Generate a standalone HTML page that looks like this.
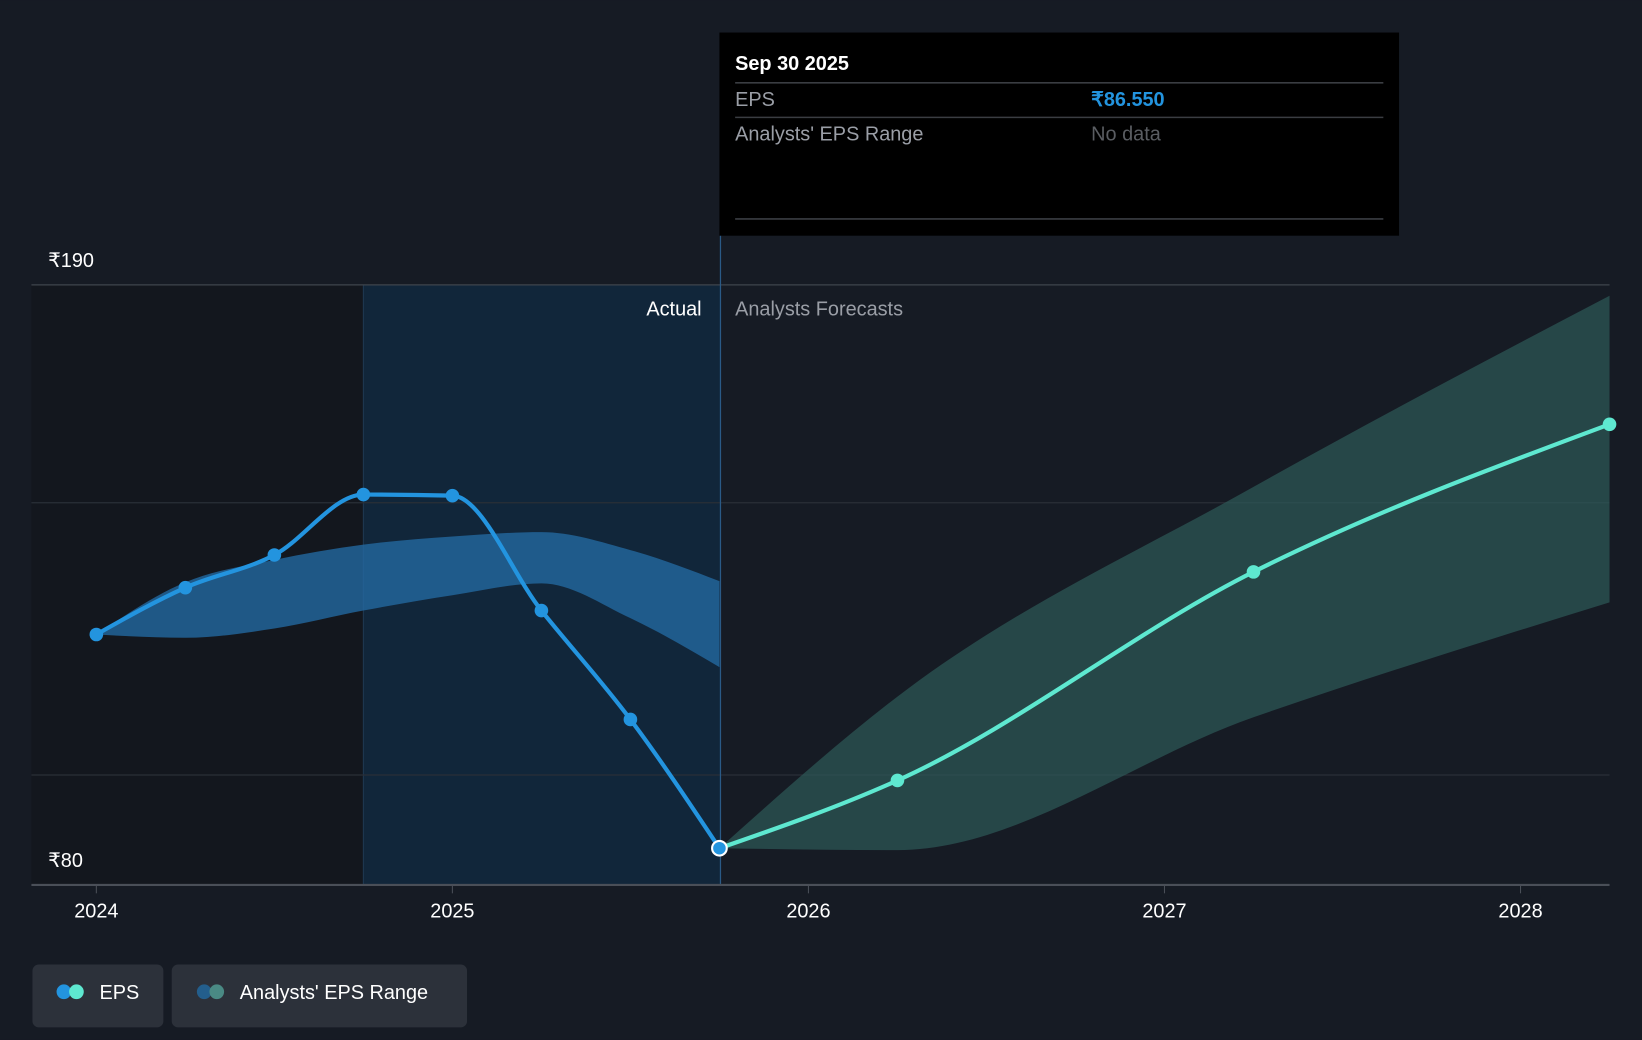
<!DOCTYPE html>
<html><head><meta charset="utf-8">
<style>
html,body{margin:0;padding:0;background:#161b24;}
svg{display:block;font-family:"Liberation Sans",sans-serif;}
</style></head>
<body>
<svg id="chart" width="1642" height="1040" viewBox="0 0 1568 993" xmlns="http://www.w3.org/2000/svg">
<rect x="0" y="0" width="1568" height="993" fill="#161b24"/>
<rect x="30" y="272" width="317" height="573" fill="#13171e"/>
<rect x="347" y="272" width="341" height="573" fill="#11263a"/>
<line x1="347" y1="272" x2="347" y2="845" stroke="#1f3850" stroke-width="1"/>
<g id="grid"></g>
<g id="bands"></g>
<line x1="688" y1="225" x2="688" y2="845" stroke="#2a5a86" stroke-width="1.2"/>
<g id="lines"></g>
<line x1="30" y1="845" x2="1537" y2="845" stroke="#4a4f58" stroke-width="2"/>
<g id="xticks"></g>
<text x="46" y="255" fill="#ffffff" font-size="19">₹190</text>
<text x="46" y="828" fill="#ffffff" font-size="19">₹80</text>
<text x="670" y="301" fill="#ffffff" font-size="19" text-anchor="end">Actual</text>
<text x="702" y="301" fill="#9a9ea6" font-size="19">Analysts Forecasts</text>

<g>
<rect x="687" y="31" width="649" height="194" fill="#000000"/>
<text x="702" y="67" fill="#ffffff" font-size="19" font-weight="bold">Sep 30 2025</text>
<line x1="702" y1="79" x2="1321" y2="79" stroke="#3a3d42" stroke-width="1.5"/>
<text x="702" y="101" fill="#9a9ea6" font-size="19">EPS</text>
<text x="1042" y="101" fill="#2394df" font-size="19" font-weight="bold">₹86.550</text>
<line x1="702" y1="112" x2="1321" y2="112" stroke="#3a3d42" stroke-width="1.5"/>
<text x="702" y="134" fill="#9a9ea6" font-size="19">Analysts' EPS Range</text>
<text x="1042" y="134" fill="#5a5d62" font-size="19">No data</text>
<line x1="702" y1="209" x2="1321" y2="209" stroke="#3a3d42" stroke-width="1.5"/>
</g>

<g>
<rect x="31" y="921" width="125" height="60" rx="6" fill="#2c313a"/>
<circle cx="61" cy="947" r="7" fill="#2394df"/>
<circle cx="73" cy="947" r="7" fill="#5ee8d0"/>
<text x="95" y="954" fill="#ffffff" font-size="19">EPS</text>
</g>
<g>
<rect x="164" y="921" width="282" height="60" rx="6" fill="#2c313a"/>
<circle cx="195" cy="947" r="7" fill="#235e8c"/>
<circle cx="207" cy="947" r="7" fill="#4a8a84"/>
<text x="229" y="954" fill="#ffffff" font-size="19">Analysts' EPS Range</text>
</g>
</svg>
<script>
const actualDates=[2024,2024.25,2024.5,2024.75,2025,2025.25,2025.5,2025.75];
const actualEps=[125.8,134.4,140.4,151.5,151.3,130.2,110.2,86.55];
const pastRangeHigh=[125.8,135.4,139.5,142.3,143.8,144.6,141.3,135.6];
const pastRangeLow=[125.8,125.2,126.9,130.2,133,135.2,128.8,119.8];
const fcDates=[2025.75,2026.25,2027.25,2028.25];
const fcEps=[86.55,99.0,137.3,164.4];
const fcHigh=[86.55,114.4,152.9,188];
const fcLow=[86.55,86.2,110.6,131.7];
const gridVals=[190,150,100];
const xTicks=[2024,2025,2026,2027,2028];

const X=t=>92+(t-2024)*340;
const Y=v=>272+(190-v)*5.2;
const NS="http://www.w3.org/2000/svg";
function mk(tag,attrs,parent){const e=document.createElementNS(NS,tag);for(const k in attrs)e.setAttribute(k,attrs[k]);parent.appendChild(e);return e;}
function sgn(v){return v<0?-1:1;}
function smooth(xs,ys){
  const n=xs.length,s=[],m=[];
  for(let i=0;i<n-1;i++)s.push((ys[i+1]-ys[i])/(xs[i+1]-xs[i]));
  for(let i=1;i<n-1;i++){
    const h0=xs[i]-xs[i-1],h1=xs[i+1]-xs[i],s0=s[i-1],s1=s[i];
    const p=(s0*h1+s1*h0)/(h0+h1);
    m[i]=(sgn(s0)+sgn(s1))*Math.min(Math.abs(s0),Math.abs(s1),0.5*Math.abs(p))||0;
  }
  if(n>2){
    m[0]=(3*s[0]-m[1])/2;
    m[n-1]=(3*s[n-2]-m[n-2])/2;
  }else{m[0]=m[1]=s[0];}
  let p="M"+xs[0]+","+ys[0];
  for(let i=0;i<n-1;i++){
    const h=(xs[i+1]-xs[i])/3;
    p+=" C"+(xs[i]+h)+","+(ys[i]+m[i]*h)+" "+(xs[i+1]-h)+","+(ys[i+1]-m[i+1]*h)+" "+xs[i+1]+","+ys[i+1];
  }
  return p;
}
function bandPath(ds,hi,lo){
  const xs=ds.map(X);
  const top=smooth(xs,hi.map(Y));
  const bx=xs.slice().reverse(),by=lo.map(Y).reverse();
  const bot=smooth(bx,by).replace(/^M/,"L");
  return top+" "+bot+" Z";
}
const grid=document.getElementById('grid');
gridVals.forEach((v,i)=>{
  const l=mk('line',{x1:30,x2:1537,y1:Y(v),y2:Y(v),stroke:i===0?'#3f444c':'#2a2f37','stroke-width':1.2},grid);
  
  
});
const xt=document.getElementById('xticks');
xTicks.forEach(t=>{
  const l=mk('line',{x1:X(t),x2:X(t),y1:845,y2:853,stroke:'#4a4f58','stroke-width':1},xt);
  
  
  const tx=mk('text',{x:X(t),y:876,fill:'#ffffff','font-size':19,'text-anchor':'middle'},xt);
  tx.textContent=String(t);
  
  
});
const bands=document.getElementById('bands');
const b1=mk('path',{d:bandPath(actualDates,pastRangeHigh,pastRangeLow),fill:'#2369a0',opacity:0.8},bands);


const b2=mk('path',{d:bandPath(fcDates,fcHigh,fcLow),fill:'#2e5a58',opacity:0.7},bands);


const lines=document.getElementById('lines');
const l1=mk('path',{d:smooth(actualDates.map(X),actualEps.map(Y)),fill:'none',stroke:'#2394df','stroke-width':4},lines);


const l2=mk('path',{d:smooth(fcDates.map(X),fcEps.map(Y)),fill:'none',stroke:'#5ee8d0','stroke-width':4},lines);


actualDates.forEach((t,i)=>{
  const last=i===actualDates.length-1;
  const c=mk('circle',{cx:X(t),cy:Y(actualEps[i]),r:last?7:6.5,fill:'#2394df',stroke:last?'#ffffff':'none','stroke-width':2},lines);
  
  
});
fcDates.forEach((t,i)=>{
  if(i===0)return;
  const c=mk('circle',{cx:X(t),cy:Y(fcEps[i]),r:6.5,fill:'#5ee8d0'},lines);
  
  
});
</script>
</body></html>
